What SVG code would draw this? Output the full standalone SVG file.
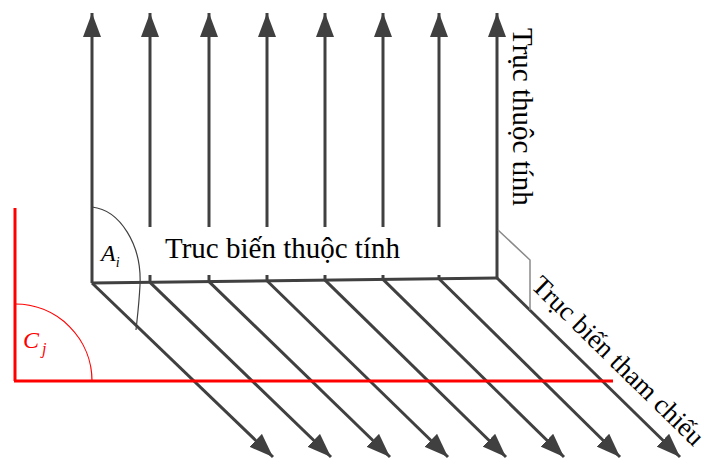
<svg xmlns="http://www.w3.org/2000/svg" width="718" height="464" viewBox="0 0 718 464">
<defs>
<marker id="ah" viewBox="0 0 24 18" markerWidth="24" markerHeight="18" refX="24" refY="9" orient="auto" markerUnits="userSpaceOnUse">
<path d="M0,0 L24,9 L0,18 Z" fill="#404040"/>
</marker>
</defs>
<style>
.ax{stroke:#404040;stroke-width:3;fill:none}
.arr{stroke:#404040;stroke-width:3;fill:none;marker-end:url(#ah)}
.thin{stroke:#404040;stroke-width:1.2;fill:none}
.gray{stroke:#8a8a8a;stroke-width:1.5;fill:none}
.red{stroke:#ff0000;stroke-width:3;fill:none}
.redthin{stroke:#ff0000;stroke-width:1.2;fill:none}
.lbl{font-family:"Liberation Serif","Times New Roman",serif;font-size:29px;fill:#000}
.sym{font-family:"Liberation Serif","Times New Roman",serif;font-style:italic;font-size:24px}
</style>
<g id="connectors">
<line class="arr" x1="92" y1="283" x2="92" y2="13"/>
<line class="arr" x1="150" y1="227" x2="150" y2="13"/>
<line class="arr" x1="209" y1="227" x2="209" y2="13"/>
<line class="arr" x1="267" y1="227" x2="267" y2="13"/>
<line class="arr" x1="325" y1="227" x2="325" y2="13"/>
<line class="arr" x1="383" y1="227" x2="383" y2="13"/>
<line class="arr" x1="439" y1="227" x2="439" y2="13"/>
<line class="arr" x1="497" y1="278" x2="497" y2="13"/>
<line class="ax" x1="150" y1="275" x2="150" y2="282.3"/>
<line class="ax" x1="209" y1="275" x2="209" y2="281.6"/>
<line class="ax" x1="267" y1="275" x2="267" y2="280.8"/>
<line class="ax" x1="325" y1="275" x2="325" y2="280.1"/>
<line class="ax" x1="383" y1="275" x2="383" y2="279.4"/>
<line class="ax" x1="439" y1="275" x2="439" y2="278.7"/>
<line class="ax" x1="92" y1="283" x2="498" y2="278"/>
<line class="arr" x1="92" y1="283" x2="273" y2="457"/>
<line class="arr" x1="150" y1="282.3" x2="331" y2="457"/>
<line class="arr" x1="209" y1="281.6" x2="390" y2="457"/>
<line class="arr" x1="267" y1="280.8" x2="448" y2="457"/>
<line class="arr" x1="325" y1="280.1" x2="506" y2="457"/>
<line class="arr" x1="383" y1="279.4" x2="564" y2="457"/>
<line class="arr" x1="439" y1="278.7" x2="620" y2="457"/>
<line class="arr" x1="497" y1="278" x2="680" y2="457"/>
<polyline class="gray" points="498,230 530,260 530,310"/>
<path class="thin" d="M92,207 C120,210 142,245 140,285 C139,305 137,320 136,330"/>
<line class="red" x1="15" y1="208" x2="15" y2="381"/>
<line class="red" x1="14" y1="381" x2="613" y2="381"/>
<path class="redthin" d="M15,304 A77,77 0 0 1 92,381"/>
</g>
<g id="label-truc-bien-thuoc-tinh">
<text class="lbl" x="165" y="258">Truc biến thuộc tính</text>
</g>
<g id="label-truc-thuoc-tinh">
<text class="lbl" transform="translate(513,28) rotate(90)">Trục thuộc tính</text>
</g>
<g id="label-truc-bien-tham-chieu">
<text class="lbl" font-size="27" style="font-size:27px" transform="translate(530,287) rotate(44.4)">Trục biến tham chiếu</text>
</g>
<g id="label-Ai">
<text class="sym" x="101" y="261" fill="#000">A<tspan font-size="14" dy="6">i</tspan></text>
</g>
<g id="label-Cj">
<text class="sym" x="23" y="348" fill="#ff0000">C<tspan font-size="16" dy="6" dx="3">j</tspan></text>
</g>
</svg>
